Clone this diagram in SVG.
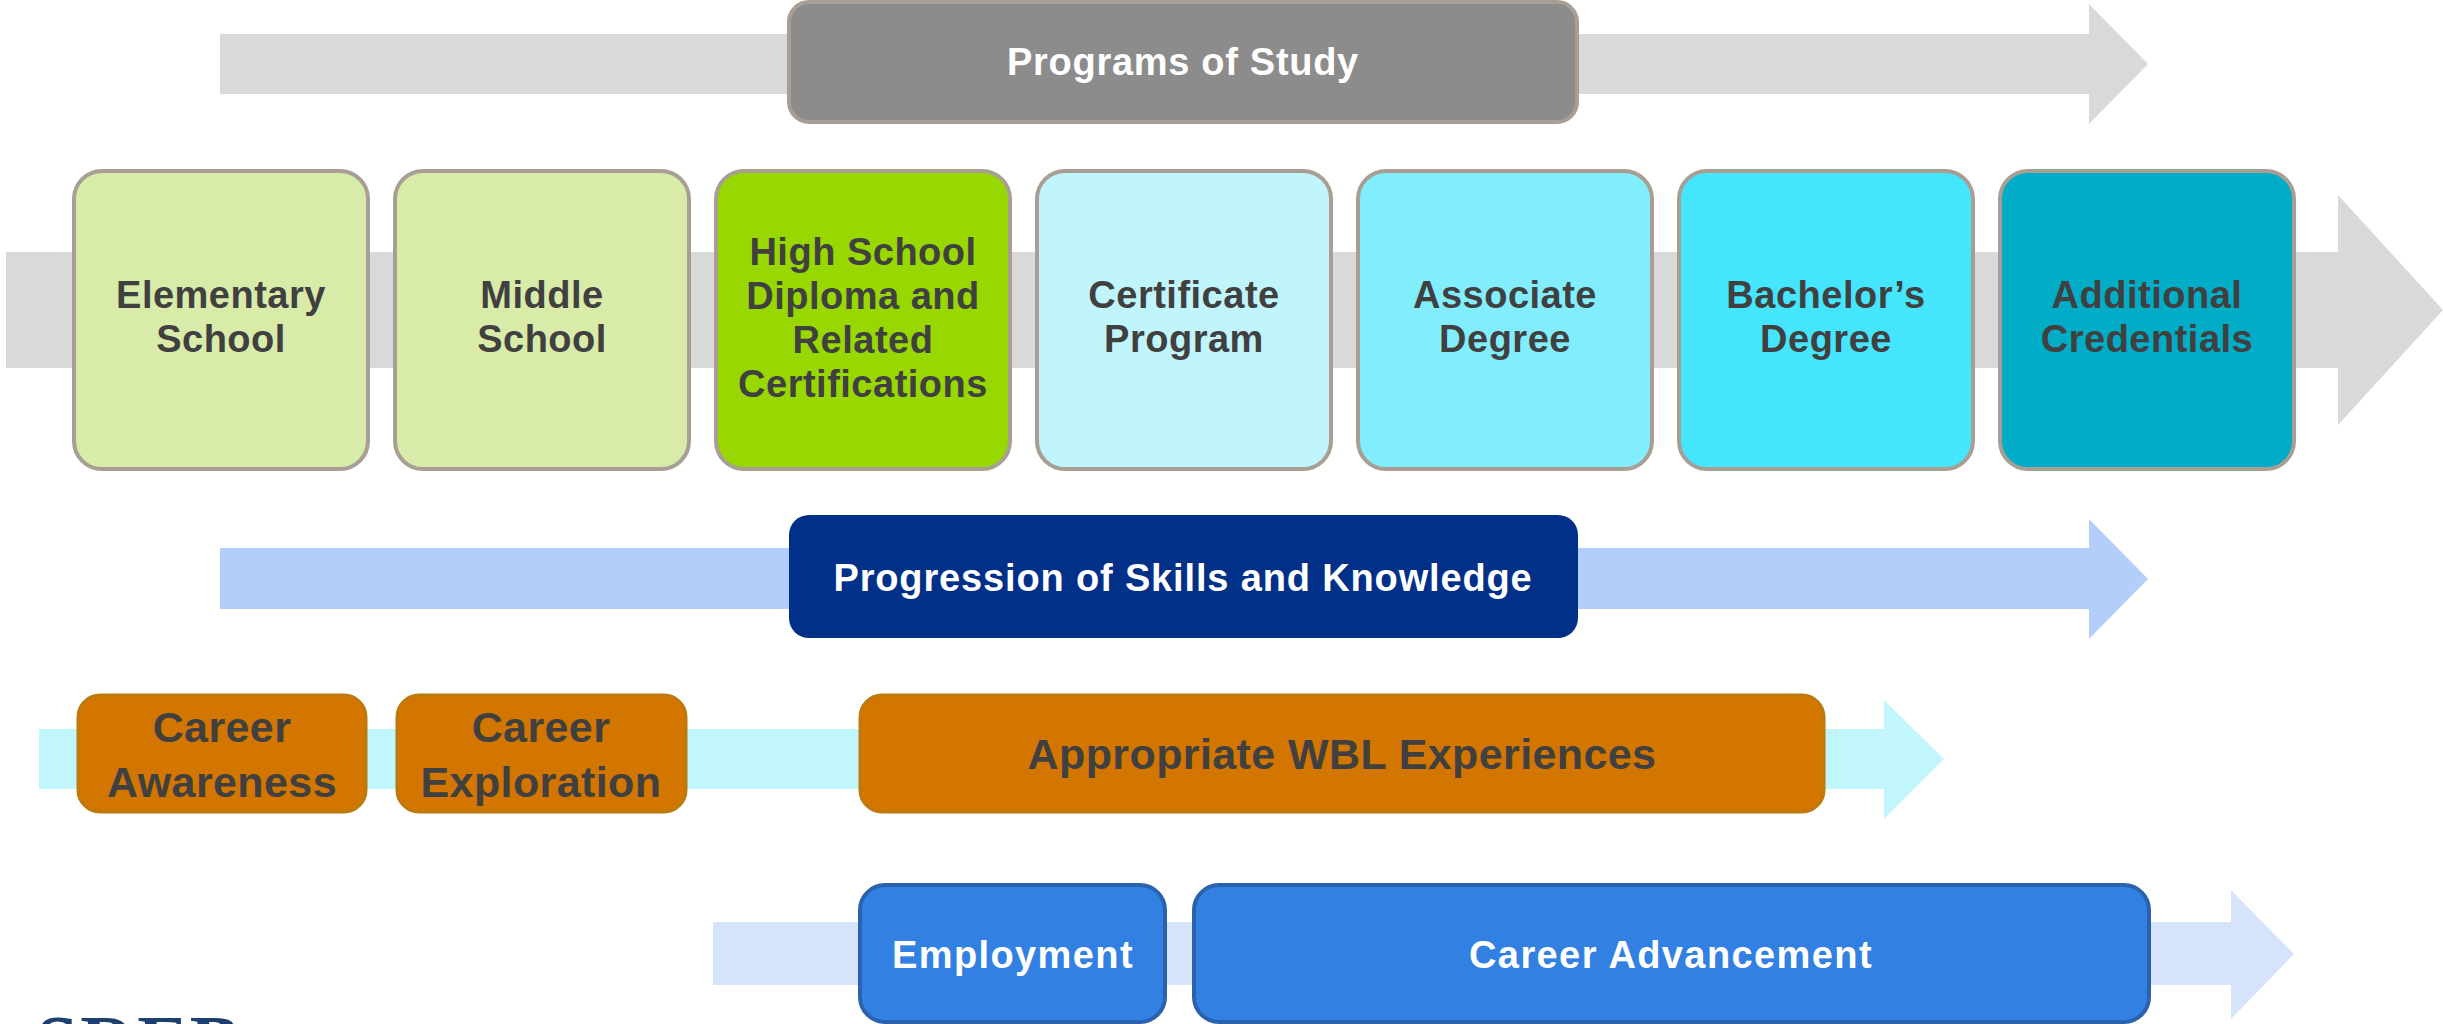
<svg xmlns="http://www.w3.org/2000/svg" width="2443" height="1024" viewBox="0 0 2443 1024">
<style>
  text { font-family: "Liberation Sans", Arial, sans-serif; font-weight: 700; text-anchor: middle; }
  .dark { fill: #404040; font-size: 38px; letter-spacing: 0.5px; }
  .big { fill: #404040; font-size: 43px; letter-spacing: 0.4px; }
  .white { fill: #ffffff; font-size: 38px; letter-spacing: 1px; }
  .stage { stroke: #a99e94; stroke-width: 4; }
  .orange { fill: #d27600; stroke: #bd7a0c; stroke-width: 3; }
  .blue { fill: #3180e2; stroke: #2a62ae; stroke-width: 4; }
</style>
<rect width="2443" height="1024" fill="#ffffff"/>
<g id="connectors">
  <polygon points="220,34 2089,34 2089,4 2148,64 2089,124 2089,94 220,94" fill="#d9d9d9"/>
  <polygon points="6,252 2338,252 2338,195 2443,310 2338,425 2338,368 6,368" fill="#d9d9d9"/>
  <polygon points="220,548 2089,548 2089,519 2148,579 2089,639 2089,609 220,609" fill="#b4cefc"/>
  <polygon points="39,729 1884,729 1884,700 1944,759 1884,819 1884,789 39,789" fill="#c1f6fd"/>
  <polygon points="713,922 2231,922 2231,890 2294,954 2231,1019 2231,985 713,985" fill="#d6e4fb"/>
</g>
<g id="programs-of-study">
  <rect x="789" y="2" width="788" height="120" rx="20" fill="#8c8c8c" stroke="#a99e94" stroke-width="4"/>
  <text class="white" x="1183" y="75" style="letter-spacing:0.7px">Programs of Study</text>
</g>
<g id="elementary-school">
  <rect class="stage" x="74" y="171" width="294" height="298" rx="28" fill="#d8eba8"/>
  <text class="dark" x="221" y="308">Elementary</text>
  <text class="dark" x="221" y="352">School</text>
</g>
<g id="middle-school">
  <rect class="stage" x="395" y="171" width="294" height="298" rx="28" fill="#d8eba8"/>
  <text class="dark" x="542" y="308">Middle</text>
  <text class="dark" x="542" y="352">School</text>
</g>
<g id="high-school">
  <rect class="stage" x="716" y="171" width="294" height="298" rx="28" fill="#98d800"/>
  <text class="dark" x="863" y="265">High School</text>
  <text class="dark" x="863" y="309">Diploma and</text>
  <text class="dark" x="863" y="353">Related</text>
  <text class="dark" x="863" y="397">Certifications</text>
</g>
<g id="certificate-program">
  <rect class="stage" x="1037" y="171" width="294" height="298" rx="28" fill="#c1f5fd"/>
  <text class="dark" x="1184" y="308">Certificate</text>
  <text class="dark" x="1184" y="352">Program</text>
</g>
<g id="associate-degree">
  <rect class="stage" x="1358" y="171" width="294" height="298" rx="28" fill="#82eefd"/>
  <text class="dark" x="1505" y="308">Associate</text>
  <text class="dark" x="1505" y="352">Degree</text>
</g>
<g id="bachelors-degree">
  <rect class="stage" x="1679" y="171" width="294" height="298" rx="28" fill="#45e5fe"/>
  <text class="dark" x="1826" y="308">Bachelor’s</text>
  <text class="dark" x="1826" y="352">Degree</text>
</g>
<g id="additional-credentials">
  <rect class="stage" x="2000" y="171" width="294" height="298" rx="28" fill="#01adc6"/>
  <text class="dark" x="2147" y="308">Additional</text>
  <text class="dark" x="2147" y="352">Credentials</text>
</g>
<g id="progression">
  <rect x="789" y="515" width="789" height="123" rx="20" fill="#003087"/>
  <text class="white" x="1183" y="591" style="letter-spacing:0.85px">Progression of Skills and Knowledge</text>
</g>
<g id="career-awareness">
  <rect class="orange" x="78" y="695" width="288" height="117" rx="22"/>
  <text class="big" x="222" y="742">Career</text>
  <text class="big" x="222" y="797">Awareness</text>
</g>
<g id="career-exploration">
  <rect class="orange" x="397" y="695" width="289" height="117" rx="22"/>
  <text class="big" x="541" y="742">Career</text>
  <text class="big" x="541" y="797">Exploration</text>
</g>
<g id="wbl-experiences">
  <rect class="orange" x="860" y="695" width="964" height="117" rx="22"/>
  <text class="big" x="1342" y="769">Appropriate WBL Experiences</text>
</g>
<g id="employment">
  <rect class="blue" x="860" y="885" width="305" height="137" rx="25"/>
  <text class="white" x="1013" y="968" style="letter-spacing:1.4px">Employment</text>
</g>
<g id="career-advancement">
  <rect class="blue" x="1194" y="885" width="955" height="137" rx="25"/>
  <text class="white" x="1671" y="968" style="letter-spacing:1.4px">Career Advancement</text>
</g>
<g id="logo">
  <text x="36" y="1068" style="font-family:'Liberation Serif','Times New Roman',serif;font-size:76px;fill:#1c3f6e;text-anchor:start;letter-spacing:2px">SREB</text>
</g>
</svg>
